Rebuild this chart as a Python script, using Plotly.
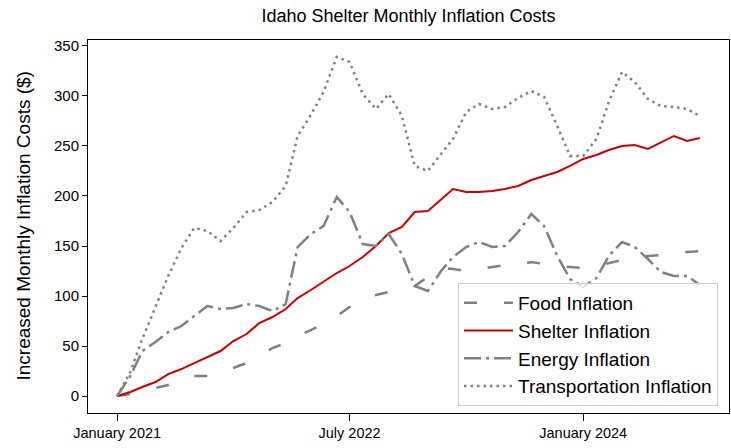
import pandas as pd
import plotly.graph_objects as go

# ---- data (monthly, Jan 2021 - Oct 2024) ----
start_month = "2021-01-01"
n_months = 46
months = pd.date_range(start_month, periods=n_months, freq="MS")

food = [0, 2, 5, 8, 11, 17, 20, 20, 24, 28,
        33, 40, 48, 53, 60, 66, 72, 80, 89, 96,
        101, 104, 105, 110, 119, 128, 127, 125, 127, 129,
        131, 131, 134, 132, 130, 129, 128, 130, 133, 136,
        139, 140, 141, 142, 144, 145]

shelter = [0, 4, 9, 14, 22, 27, 33, 39, 45, 55,
           62, 73, 79, 87, 98, 106, 114, 123, 130, 139,
           150, 163, 169, 184, 185, 197, 207, 204, 204, 205,
           207, 210, 216, 220, 224, 230, 237, 241, 246, 250,
           251, 247, 253, 260, 255, 258]

energy = [0, 20, 45, 54, 64, 70, 80, 90, 87, 88,
          92, 90, 85, 92, 149, 162, 170, 199, 184, 152,
          150, 162, 142, 110, 105, 125, 139, 149, 154, 149,
          150, 164, 182, 170, 140, 117, 109, 118, 140, 154,
          149, 137, 124, 120, 120, 111]

transportation = [0, 24, 57, 89, 120, 148, 168, 165, 155, 168,
                  184, 186, 194, 210, 260, 281, 304, 339, 334, 302,
                  287, 302, 280, 230, 225, 242, 257, 284, 292, 287,
                  289, 298, 305, 299, 270, 240, 240, 257, 294, 324,
                  314, 297, 290, 289, 287, 280]

series_names = ["Food Inflation", "Shelter Inflation", "Energy Inflation", "Transportation Inflation"]

x_tick_vals = ["2021-01-01", "2022-07-01", "2024-01-01"]
x_tick_text = ["January 2021", "July 2022", "January 2024"]
y_tick_vals = [0, 50, 100, 150, 200, 250, 300, 350]

title_text = "Idaho Shelter Monthly Inflation Costs"
y_title_text = "Increased Monthly Inflation Costs ($)"

# ---- figure ----
FONT = "Liberation Sans, Arial, sans-serif"
GRAY = "#808080"
RED = "#cc0000"

styles = [
    dict(color=GRAY, width=2.5, dash="13px,27px"),
    dict(color=RED, width=2, dash="solid"),
    dict(color=GRAY, width=2.5, dash="17px,5px,3px,5px"),
    dict(color=GRAY, width=2.5, dash="2.5px,4px"),
]

fig = go.Figure()
for name, vals, st in zip(series_names, [food, shelter, energy, transportation], styles):
    fig.add_trace(go.Scatter(x=months, y=vals, mode="lines", name=name,
                             line=st, legendgroup=name))

# axis ranges with 5% padding like matplotlib
x0 = months[0]
x1 = months[-1]
span = x1 - x0
xr = [x0 - span * 0.05, x1 + span * 0.05]
all_vals = food + shelter + energy + transportation
vmin, vmax = min(all_vals), max(all_vals)
vpad = (vmax - vmin) * 0.05
yr = [vmin - vpad, vmax + vpad]

fig.update_layout(
    width=731, height=448,
    margin=dict(l=88, r=2, t=40, b=35),
    paper_bgcolor="white", plot_bgcolor="white",
    font=dict(family=FONT, size=13.5, color="#000000"),
    title=dict(text=title_text, x=0.5, xref="paper", xanchor="center",
               y=1 - 16 / 448, yref="container", yanchor="middle",
               font=dict(family=FONT, size=18, color="#000000")),
    showlegend=True,
    legend=dict(x=(458 - 88) / 641, y=(413 - 283) / 373, xanchor="left", yanchor="top",
                bgcolor="rgba(255,255,255,0.8)", bordercolor="#cccccc", borderwidth=1,
                font=dict(family=FONT, size=19, color="#000000"),
                itemwidth=49, traceorder="grouped", tracegroupgap=0),
)

fig.update_xaxes(
    type="date", range=xr,
    tickmode="array", tickvals=x_tick_vals, ticktext=x_tick_text,
    ticks="outside", ticklen=7, tickwidth=1, tickcolor="#000000",
    showline=True, linecolor="#000000", linewidth=1, mirror=True,
    showgrid=False, zeroline=False,
    tickfont=dict(family=FONT, size=14.5, color="#000000"),
)
fig.update_yaxes(
    range=yr,
    tickmode="array", tickvals=y_tick_vals,
    ticks="outside", ticklen=5, tickwidth=1, tickcolor="#000000",
    showline=True, linecolor="#000000", linewidth=1, mirror=True,
    showgrid=False, zeroline=False,
    tickfont=dict(family=FONT, size=15, color="#000000"),
)

fig.add_annotation(text=y_title_text, textangle=-90,
                   xref="paper", yref="paper",
                   x=-(88 - 23) / 641, y=0.5, xanchor="center", yanchor="middle",
                   showarrow=False, font=dict(family=FONT, size=19, color="#000000"))

fig.write_html("out.html", config={"displayModeBar": False},
               post_script="document.body.style.margin='0px';")
